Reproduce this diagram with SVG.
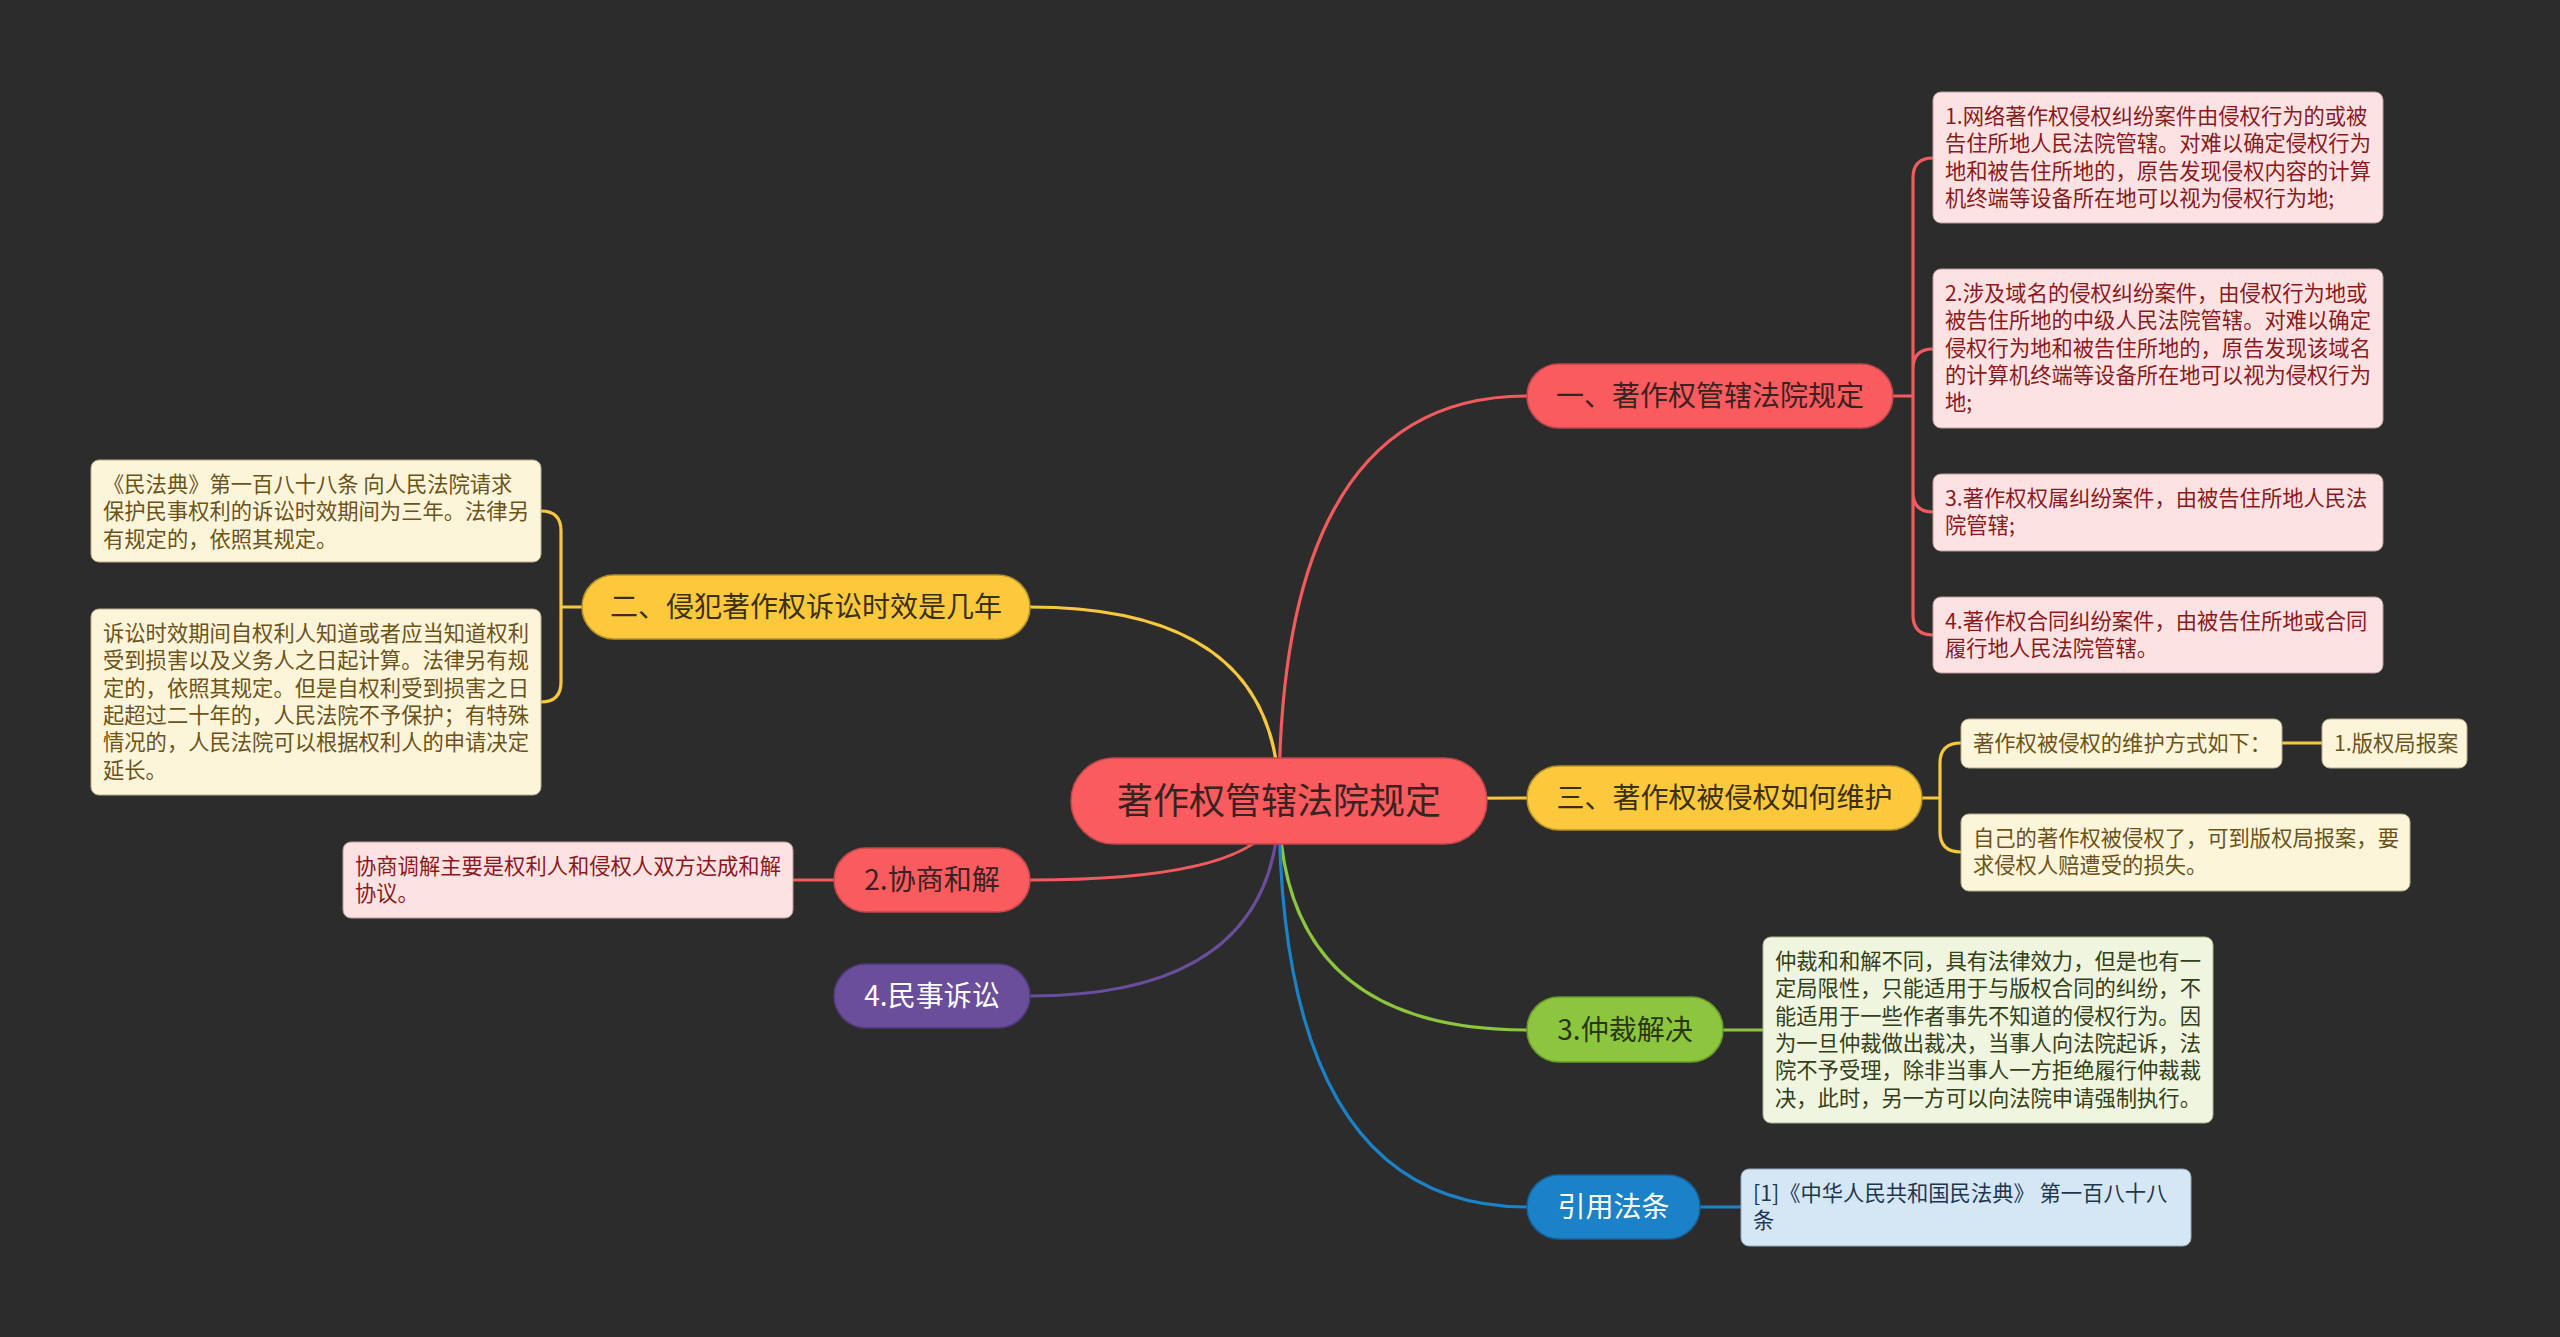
<svg xmlns="http://www.w3.org/2000/svg" width="2560" height="1337" viewBox="0 0 2560 1337">
<style>
text{font-family:"Noto Sans CJK SC","Noto Sans",sans-serif;}
.lf{font-size:21.3px;}
.pl{font-size:28px;text-anchor:middle;}
.c{fill:none;stroke-width:3.2;stroke-linecap:round;}
.red{stroke:#f25b5e;}
.yel{stroke:#f7c83e;}
.grn{stroke:#8cc63f;}
.blu{stroke:#1b82c8;}
.pur{stroke:#6a4e9b;}
.lpink{fill:#fde2e3;stroke:#b89c9c;stroke-width:1;}
.lcream{fill:#fdf5da;stroke:#b8ad8c;stroke-width:1;}
.lgreen{fill:#eff5de;stroke:#a9b494;stroke-width:1;}
.lblue{fill:#d5e7f4;stroke:#94a8b8;stroke-width:1;}
.tpink{fill:#8b1a1d;}
.tcream{fill:#6b531a;}
.tgreen{fill:#33401a;}
.tblue{fill:#1e3650;}
</style>
<rect x="0" y="0" width="2560" height="1337" fill="#2c2c2c"/>
<g id="connectors">
<path class="c red" d="M1279 801 Q1279 396 1527 396"/>
<path class="c yel" d="M1279 799 L1527 798"/>
<path class="c grn" d="M1279 801 Q1279 1030 1527 1030"/>
<path class="c blu" d="M1279 801 Q1279 1207 1527 1207"/>
<path class="c yel" d="M1279 801 Q1279 607 1030 607"/>
<path class="c red" d="M1279 801 Q1279 880 1030 880"/>
<path class="c pur" d="M1279 801 Q1279 996 1030 996"/>
<path class="c red" d="M1893 396 H1913 M1913 396 V178 Q1913 158 1933 158 M1913 396 V369 Q1913 349 1933 349 M1913 396 V492 Q1913 512 1933 512 M1913 396 V615 Q1913 635 1933 635"/>
<path class="c yel" d="M582 607 H561 M561 607 V531 Q561 511 541 511 M561 607 V682 Q561 702 541 702"/>
<path class="c yel" d="M1922 798 H1940 M1940 798 V763 Q1940 743 1961 743 M1940 798 V832 Q1940 852 1961 852 M2282 743 H2322"/>
<path class="c grn" d="M1723 1030 H1763"/>
<path class="c blu" d="M1700 1207 H1741"/>
<path class="c red" d="M834 880 H793"/>
</g>
<g id="center">
<rect x="1071" y="758" width="416" height="86" rx="43" fill="#f95b5e" stroke="#c2474a" stroke-width="1.5"/>
<text x="1279" y="814" font-size="36" text-anchor="middle" fill="#3b2222">著作权管辖法院规定</text>
</g>
<g id="n1">
<rect x="1527" y="364" width="366" height="64" rx="32" fill="#f95b5e" stroke="#c2474a" stroke-width="1.5"/>
<text class="pl" x="1710" y="406" fill="#3b2222">一、著作权管辖法院规定</text>
</g>
<g id="n3">
<rect x="1527" y="766" width="395" height="64" rx="32" fill="#fbc93b" stroke="#b8912a" stroke-width="1.5"/>
<text class="pl" x="1724.5" y="808" fill="#3a3010">三、著作权被侵权如何维护</text>
</g>
<g id="n_zhongcai">
<rect x="1527" y="997" width="196" height="65" rx="32" fill="#8cc63f" stroke="#6a9a2c" stroke-width="1.5"/>
<text class="pl" x="1625" y="1040" fill="#2a3610">3.仲裁解决</text>
</g>
<g id="n_yinyong">
<rect x="1527" y="1175" width="173" height="64" rx="32" fill="#1b82c8" stroke="#14629a" stroke-width="1.5"/>
<text class="pl" x="1613.5" y="1217" fill="#ffffff">引用法条</text>
</g>
<g id="n2">
<rect x="582" y="575" width="448" height="64" rx="32" fill="#fbc93b" stroke="#b8912a" stroke-width="1.5"/>
<text class="pl" x="806" y="617" fill="#3a3010">二、侵犯著作权诉讼时效是几年</text>
</g>
<g id="n_xieshang">
<rect x="834" y="848" width="196" height="64" rx="32" fill="#f95b5e" stroke="#c2474a" stroke-width="1.5"/>
<text class="pl" x="932" y="890" fill="#3b2222">2.协商和解</text>
</g>
<g id="n_minshi">
<rect x="834" y="964" width="196" height="64" rx="32" fill="#6a4e9b" stroke="#4f3a78" stroke-width="1.5"/>
<text class="pl" x="932" y="1006" fill="#ffffff">4.民事诉讼</text>
</g>
<g id="r1">
<rect class="lpink" x="1933" y="92" width="450" height="131" rx="8"/>
<text class="lf tpink" x="1945" y="124">1.网络著作权侵权纠纷案件由侵权行为的或被<tspan x="1945" dy="27.3">告住所地人民法院管辖。对难以确定侵权行为</tspan><tspan x="1945" dy="27.3">地和被告住所地的，原告发现侵权内容的计算</tspan><tspan x="1945" dy="27.3">机终端等设备所在地可以视为侵权行为地;</tspan></text>
</g>
<g id="r2">
<rect class="lpink" x="1933" y="269" width="450" height="159" rx="8"/>
<text class="lf tpink" x="1945" y="301">2.涉及域名的侵权纠纷案件，由侵权行为地或<tspan x="1945" dy="27.3">被告住所地的中级人民法院管辖。对难以确定</tspan><tspan x="1945" dy="27.3">侵权行为地和被告住所地的，原告发现该域名</tspan><tspan x="1945" dy="27.3">的计算机终端等设备所在地可以视为侵权行为</tspan><tspan x="1945" dy="27.3">地;</tspan></text>
</g>
<g id="r3">
<rect class="lpink" x="1933" y="474" width="450" height="77" rx="8"/>
<text class="lf tpink" x="1945" y="506">3.著作权权属纠纷案件，由被告住所地人民法<tspan x="1945" dy="27.3">院管辖;</tspan></text>
</g>
<g id="r4">
<rect class="lpink" x="1933" y="597" width="450" height="76" rx="8"/>
<text class="lf tpink" x="1945" y="629">4.著作权合同纠纷案件，由被告住所地或合同<tspan x="1945" dy="27.3">履行地人民法院管辖。</tspan></text>
</g>
<g id="l1">
<rect class="lcream" x="91" y="460" width="450" height="102" rx="8"/>
<text class="lf tcream" x="103" y="492">《民法典》第一百八十八条 向人民法院请求<tspan x="103" dy="27.3">保护民事权利的诉讼时效期间为三年。法律另</tspan><tspan x="103" dy="27.3">有规定的，依照其规定。</tspan></text>
</g>
<g id="l2">
<rect class="lcream" x="91" y="609" width="450" height="186" rx="8"/>
<text class="lf tcream" x="103" y="641">诉讼时效期间自权利人知道或者应当知道权利<tspan x="103" dy="27.3">受到损害以及义务人之日起计算。法律另有规</tspan><tspan x="103" dy="27.3">定的，依照其规定。但是自权利受到损害之日</tspan><tspan x="103" dy="27.3">起超过二十年的，人民法院不予保护；有特殊</tspan><tspan x="103" dy="27.3">情况的，人民法院可以根据权利人的申请决定</tspan><tspan x="103" dy="27.3">延长。</tspan></text>
</g>
<g id="p1">
<rect class="lpink" x="343" y="842" width="450" height="76" rx="8"/>
<text class="lf tpink" x="355" y="874">协商调解主要是权利人和侵权人双方达成和解<tspan x="355" dy="27.3">协议。</tspan></text>
</g>
<g id="y1">
<rect class="lcream" x="1961" y="719" width="321" height="49" rx="8"/>
<text class="lf tcream" x="1973" y="751">著作权被侵权的维护方式如下：</text>
</g>
<g id="y1a">
<rect class="lcream" x="2322" y="719" width="145" height="49" rx="8"/>
<text class="lf tcream" x="2334" y="751">1.版权局报案</text>
</g>
<g id="y2">
<rect class="lcream" x="1961" y="814" width="449" height="77" rx="8"/>
<text class="lf tcream" x="1973" y="846">自己的著作权被侵权了，可到版权局报案，要<tspan x="1973" dy="27.3">求侵权人赔遭受的损失。</tspan></text>
</g>
<g id="g1">
<rect class="lgreen" x="1763" y="937" width="450" height="186" rx="8"/>
<text class="lf tgreen" x="1775" y="969">仲裁和和解不同，具有法律效力，但是也有一<tspan x="1775" dy="27.3">定局限性，只能适用于与版权合同的纠纷，不</tspan><tspan x="1775" dy="27.3">能适用于一些作者事先不知道的侵权行为。因</tspan><tspan x="1775" dy="27.3">为一旦仲裁做出裁决，当事人向法院起诉，法</tspan><tspan x="1775" dy="27.3">院不予受理，除非当事人一方拒绝履行仲裁裁</tspan><tspan x="1775" dy="27.3">决，此时，另一方可以向法院申请强制执行。</tspan></text>
</g>
<g id="b1">
<rect class="lblue" x="1741" y="1169" width="450" height="77" rx="8"/>
<text class="lf tblue" x="1753" y="1201">[1]《中华人民共和国民法典》 第一百八十八<tspan x="1753" dy="27.3">条</tspan></text>
</g>
</svg>
